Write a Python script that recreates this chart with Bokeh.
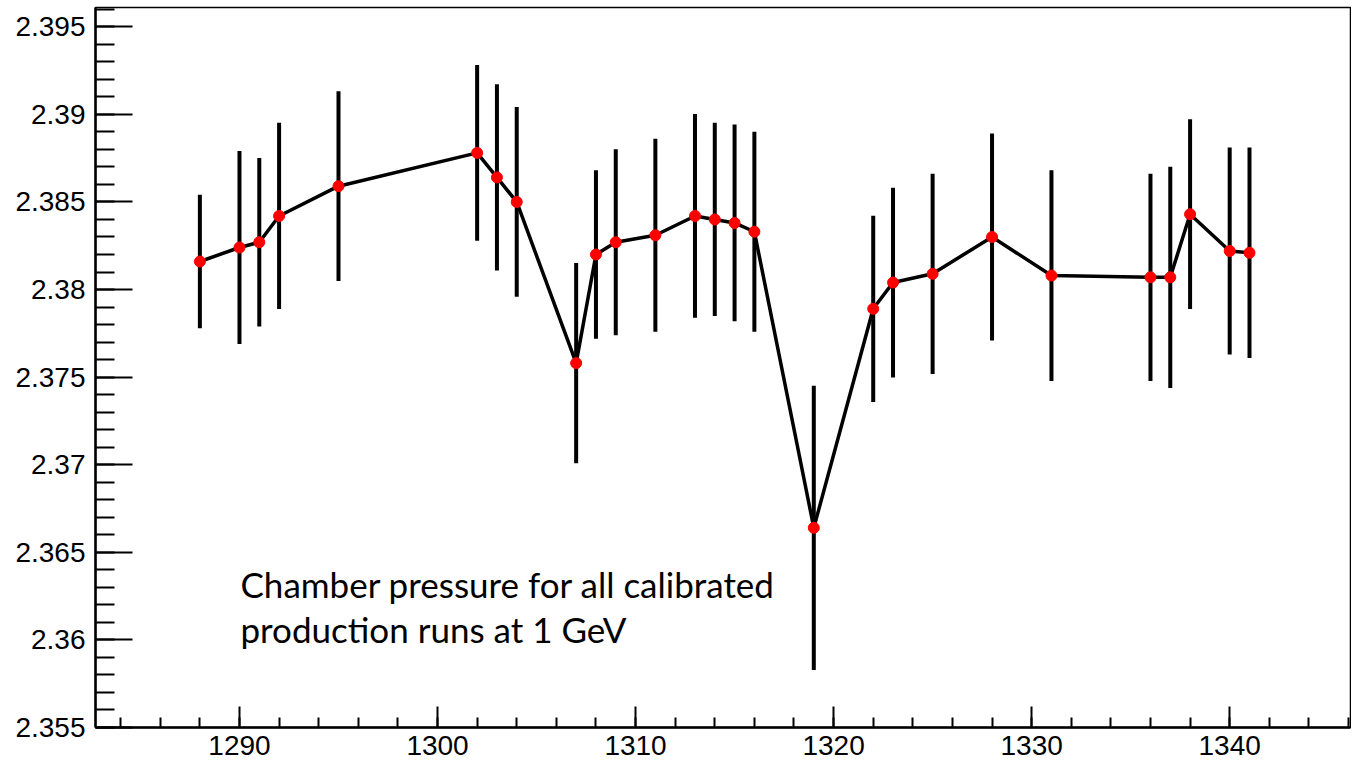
from bokeh.plotting import figure
from bokeh.models import Range1d, SingleIntervalTicker, CustomJSTickFormatter, Label, ColumnDataSource
from bokeh.embed import file_html
from bokeh.resources import INLINE

# ---- data ----
runs = [1288, 1290, 1291, 1292, 1295, 1302, 1303, 1304, 1307, 1308, 1309, 1311,
        1313, 1314, 1315, 1316, 1319, 1322, 1323, 1325, 1328, 1331, 1336, 1337,
        1338, 1340, 1341]
pressure = [2.3816, 2.3824, 2.3827, 2.3842, 2.3859, 2.3878, 2.3864, 2.3850,
            2.3758, 2.3820, 2.3827, 2.3831, 2.3842, 2.3840, 2.3838, 2.3833,
            2.3664, 2.3789, 2.3804, 2.3809, 2.3830, 2.3808, 2.3807, 2.3807,
            2.3843, 2.3822, 2.3821]
pressure_err = [0.0037, 0.0054, 0.0047, 0.0052, 0.0053, 0.0049, 0.0052, 0.0053,
                0.0056, 0.0047, 0.0052, 0.0054, 0.0057, 0.0054, 0.0055, 0.0056,
                0.0080, 0.0052, 0.0053, 0.0056, 0.0058, 0.0059, 0.0058, 0.0062,
                0.0053, 0.0058, 0.0059]
note_lines = ["Chamber pressure for all calibrated", "production  runs at 1 GeV"]

lo = [p - e for p, e in zip(pressure, pressure_err)]
hi = [p + e for p, e in zip(pressure, pressure_err)]
src = ColumnDataSource(dict(x=runs, y=pressure, lo=lo, hi=hi))

p = figure(width=1351, height=764, output_backend="svg", toolbar_location=None,
           x_range=Range1d(1282.73, 1346.1), y_range=Range1d(2.355, 2.3961),
           min_border_left=95, min_border_right=1, min_border_top=7, min_border_bottom=37)
p.background_fill_color = "white"
p.border_fill_color = "white"
p.outline_line_color = "black"
p.outline_line_width = 1.5
p.xgrid.visible = False
p.ygrid.visible = False

# axes in ROOT style: ticks pointing inward
xa = p.xaxis[0]
xa.ticker = SingleIntervalTicker(interval=10, num_minor_ticks=5)
xa.major_tick_in = 21
xa.major_tick_out = 0
xa.minor_tick_in = 10
xa.minor_tick_out = 0
ya = p.yaxis[0]
ya.ticker = SingleIntervalTicker(interval=0.005, num_minor_ticks=5)
ya.major_tick_in = 37
ya.major_tick_out = 0
ya.minor_tick_in = 19
ya.minor_tick_out = 0
ya.formatter = CustomJSTickFormatter(code="return String(parseFloat(tick.toFixed(4)));")
for ax in (xa, ya):
    ax.axis_line_width = 2.5
    ax.axis_line_color = "black"
    ax.major_tick_line_width = 2
    ax.minor_tick_line_width = 2
    ax.major_tick_line_color = "black"
    ax.minor_tick_line_color = "black"
    ax.major_label_text_font = "Arial"
    ax.major_label_text_font_size = "28px"
    ax.major_label_text_color = "black"
xa.major_label_standoff = 8
ya.major_label_standoff = 10

# error bars, connecting line, markers
p.segment(x0="x", y0="lo", x1="x", y1="hi", source=src, line_color="black",
          line_width=4, line_cap="square")
p.line(x="x", y="y", source=src, line_color="black", line_width=3.5)
p.scatter(x="x", y="y", source=src, size=11, fill_color="red", line_color="red")

# annotation
p.add_layout(Label(x=1290.05, y=2.36321, text=note_lines[0], text_font="Lato",
                   text_font_size="35px", text_color="black", text_baseline="alphabetic"))
p.add_layout(Label(x=1290.05, y=2.36065, text=note_lines[1], text_font="Lato",
                   text_font_size="35px", text_color="black", text_baseline="alphabetic"))

open("out.html", "w").write(file_html(p, INLINE))
